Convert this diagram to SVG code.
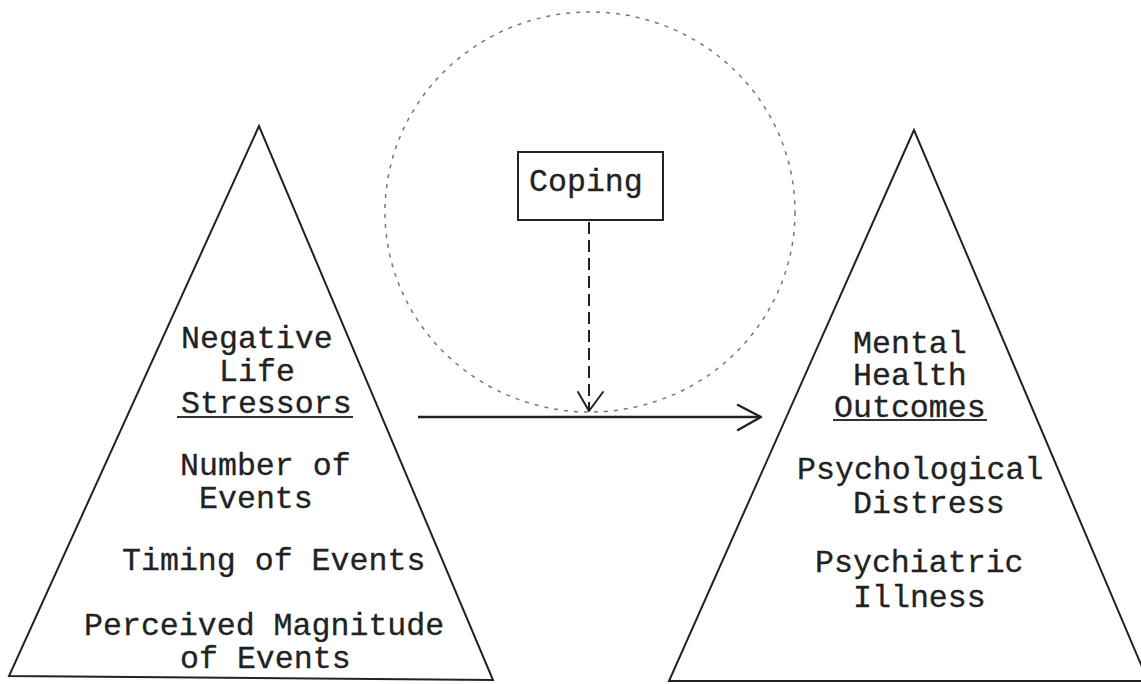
<svg xmlns="http://www.w3.org/2000/svg" width="1141" height="684" viewBox="0 0 1141 684">
<style>
.t{font-family:"Liberation Mono","Courier New",monospace;font-size:31.6px;fill:#222;stroke:#222;stroke-width:0.3}
.tri{fill:none;stroke:#222;stroke-width:2;stroke-linejoin:miter}
.ul{stroke:#333;stroke-width:2}
.box{fill:#fff;stroke:#222;stroke-width:2}
.open{fill:none;stroke:#222;stroke-width:2.5;stroke-linecap:round;stroke-linejoin:round}
</style>
<rect width="1141" height="684" fill="#fff"/>
<g id="moderator-circle">
<ellipse cx="590" cy="212" rx="205" ry="200" fill="none" stroke="#777" stroke-width="1.5" stroke-dasharray="4 6"/>
</g>
<g id="stressors">
<polygon class="tri" points="259,126 9,676 493,680"/>
<text class="t" x="181" y="348">Negative</text>
<text class="t" x="219" y="381">Life</text>
<text class="t" x="181" y="413">Stressors</text>
<line class="ul" x1="177" y1="417" x2="353" y2="417"/>
<text class="t" x="180" y="475">Number of</text>
<text class="t" x="199" y="508">Events</text>
<text class="t" x="122" y="570">Timing of Events</text>
<text class="t" x="84" y="635">Perceived Magnitude</text>
<text class="t" x="180" y="668">of Events</text>
</g>
<g id="outcomes">
<polygon class="tri" points="914,130 669,681 1148,681"/>
<text class="t" x="853" y="353">Mental</text>
<text class="t" x="853" y="385">Health</text>
<text class="t" x="834" y="417">Outcomes</text>
<line class="ul" x1="833" y1="420" x2="987" y2="420"/>
<text class="t" x="797" y="479">Psychological</text>
<text class="t" x="853" y="513">Distress</text>
<text class="t" x="815" y="572">Psychiatric</text>
<text class="t" x="853" y="607">Illness</text>
</g>
<g id="coping">
<rect class="box" x="518" y="152" width="145" height="68"/>
<text class="t" x="529" y="191">Coping</text>
</g>
<g id="connectors">
<line x1="418" y1="417" x2="760" y2="417" stroke="#222" stroke-width="2.5"/>
<polyline class="open" points="738,405 761,417 738,430"/>
<line x1="589" y1="222" x2="589" y2="410" stroke="#222" stroke-width="2" stroke-dasharray="12 6"/>
<polyline class="open" points="578,392 589,411 603,392" style="stroke-width:2"/>
</g>
</svg>
